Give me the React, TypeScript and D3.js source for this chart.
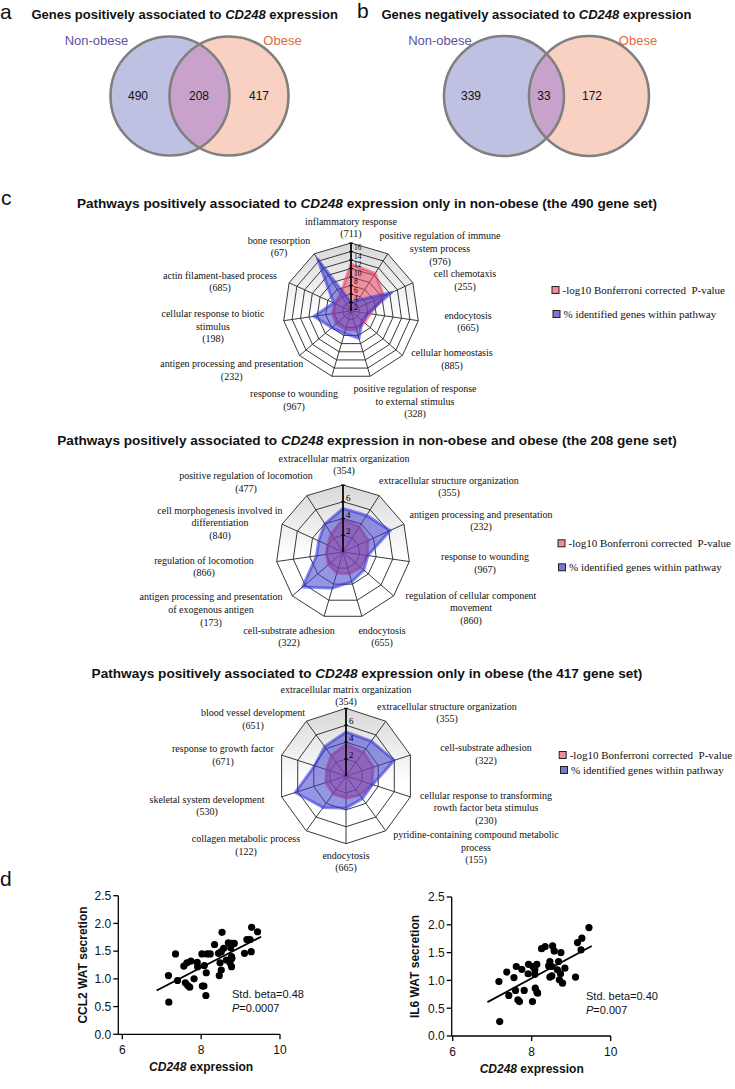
import React from "react";
import * as d3 from "d3";

const SANS = "'Liberation Sans', Arial, Helvetica, sans-serif";
const SERIF = "'Liberation Serif', 'Times New Roman', serif";

// ---------------- Venn data ----------------
const vennGroups = ["Non-obese", "Obese"];
const vennPositive = [490, 208, 417]; // non-obese only, both, obese only
const vennNegative = [339, 33, 172];

// ---------------- Radar data ----------------
const legendLabels = ["-log10 Bonferroni corrected  P-value", "% identified genes within pathway"];

const radar1Pathways = [
  ["inflammatory response"],
  ["positive regulation of immune", "system process"],
  ["cell chemotaxis"],
  ["endocytosis"],
  ["cellular homeostasis"],
  ["positive regulation of response", "to external stimulus"],
  ["response to wounding"],
  ["antigen processing and presentation"],
  ["cellular response to biotic", "stimulus"],
  ["actin filament-based process"],
  ["bone resorption"],
];
const radar1Sizes = [711, 976, 255, 665, 885, 328, 967, 232, 198, 685, 67];
const radar1LogP = [11, 10.5, 8.5, 4.6, 4.2, 4.6, 4.6, 4.6, 4.4, 4.2, 4.6];
const radar1Pct = [2, 3, 10.5, 4, 3.5, 6.7, 5.5, 6, 8.8, 4.5, 14.5];
const radar1Ticks = [2, 4, 6, 8, 10, 12, 14, 16];

const radar2Pathways = [
  ["extracellular matrix organization"],
  ["extracellular structure organization"],
  ["antigen processing and presentation"],
  ["response to wounding"],
  ["regulation of cellular component", "movement"],
  ["endocytosis"],
  ["cell-substrate adhesion"],
  ["antigen processing and presentation", "of exogenous antigen"],
  ["regulation of locomotion"],
  ["cell morphogenesis involved in", "differentiation"],
  ["positive regulation of locomotion"],
];
const radar2Sizes = [354, 355, 232, 967, 860, 655, 322, 173, 866, 840, 477];
const radar2LogP = [3.9, 3.6, 3.3, 2.9, 2.8, 2.7, 2.6, 2.3, 2.0, 2.0, 2.6];
const radar2Pct = [5.2, 5.2, 6.2, 3.0, 3.3, 3.7, 4.5, 6.4, 3.2, 3.2, 4.0];
const radar2Ticks = [2, 4, 6, 8];

const radar3Pathways = [
  ["extracellular matrix organization"],
  ["extracellular structure organization"],
  ["cell-substrate adhesion"],
  ["cellular response to transforming", "rowth factor beta stimulus"],
  ["pyridine-containing compound metabolic", "process"],
  ["endocytosis"],
  ["collagen metabolic process"],
  ["skeletal system development"],
  ["response to growth factor"],
  ["blood vessel development"],
];
const radar3Sizes = [354, 355, 322, 230, 155, 665, 122, 530, 671, 651];
const radar3LogP = [3.7, 3.5, 3.4, 3.2, 2.8, 2.6, 2.6, 2.5, 2.4, 3.0];
const radar3Pct = [5.2, 5.1, 6.0, 3.3, 3.3, 3.8, 4.6, 6.3, 3.9, 4.3];
const radar3Ticks = [2, 4, 6, 8];

// ---------------- Scatter data ----------------
const ccl2X = [7.17, 7.18, 7.35, 7.4, 7.56, 7.6, 7.64, 7.66, 7.71, 7.74, 7.82, 7.9, 7.91, 8.02, 8.03, 8.07, 8.08, 8.12, 8.15, 8.13, 8.23, 8.34, 8.44, 8.46, 8.48, 8.51, 8.51, 8.53, 8.57, 8.64, 8.69, 8.73, 8.75, 8.77, 8.78, 8.77, 8.78, 8.84, 9.1, 9.16, 9.24, 9.27, 9.28, 9.43];
const ccl2Y = [1.06, 0.58, 1.45, 0.97, 1.23, 0.93, 1.29, 0.88, 0.85, 1.32, 1.0, 1.3, 1.22, 1.45, 0.87, 0.87, 1.24, 0.7, 1.45, 1.11, 1.45, 1.62, 1.46, 1.06, 1.29, 1.49, 1.16, 1.84, 1.55, 1.34, 1.65, 1.29, 1.56, 1.4, 1.64, 1.22, 1.37, 1.64, 1.46, 1.71, 1.71, 1.49, 1.93, 1.85];
const ccl2FitX = [6.87, 9.52];
const ccl2FitY = [0.79, 1.76];

const il6X = [7.17, 7.19, 7.37, 7.42, 7.55, 7.59, 7.61, 7.65, 7.69, 7.75, 7.81, 7.91, 7.92, 8.02, 8.03, 8.08, 8.09, 8.13, 8.13, 8.15, 8.08, 8.25, 8.34, 8.43, 8.46, 8.46, 8.51, 8.51, 8.53, 8.57, 8.65, 8.68, 8.7, 8.73, 8.74, 8.78, 8.84, 9.11, 9.16, 9.27, 9.25, 9.45];
const il6Y = [0.98, 0.26, 1.15, 0.73, 1.05, 0.82, 1.25, 0.65, 0.62, 1.2, 0.82, 1.12, 1.29, 0.62, 1.25, 1.11, 0.86, 1.29, 0.79, 0.77, 1.19, 1.57, 1.61, 1.26, 1.06, 1.34, 1.25, 1.08, 1.62, 1.53, 1.19, 1.34, 1.01, 1.12, 1.5, 0.95, 1.22, 1.06, 1.68, 1.76, 1.55, 1.95];
const il6FitX = [6.88, 9.52];
const il6FitY = [0.61, 1.62];

const scatterYTicks = [0, 0.5, 1.0, 1.5, 2.0, 2.5];
const scatterXTicks = [6, 8, 10];

// ---------------- Layout (positions only) ----------------
const radar1LabelXY = [[351, 221], [440, 235.7], [465, 273.3], [468, 315], [452, 352.7], [415, 388.3], [294, 393.3], [231.7, 363.3], [213, 313.3], [220, 275], [279, 240]];
const radar2LabelXY = [[344, 458], [449, 480], [481, 514], [485, 556.7], [471, 595], [382, 630], [289, 630], [211, 596.7], [204, 560], [220, 510], [246, 475.7]];
const radar3LabelXY = [[346, 689], [447, 706], [486, 747.7], [486, 795], [476, 834.3], [346, 855], [246, 838.3], [207, 799], [223, 748.3], [253, 712.7]];

const LINE_H = 12.7;

type RadarProps = {
  gid: string; cx: number; cy: number; r: number; ticks: number[]; tickLabels: number[];
  tickDy: number; tickFont: number; names: string[][]; sizes: number[]; red: number[]; blue: number[];
  labelXY: number[][]; legendX: number[]; legendY: number[];
};

function Radar(p: RadarProps) {
  const n = p.names.length;
  const max = p.ticks[p.ticks.length - 1];
  const rs = d3.scaleLinear().domain([0, max]).range([0, p.r]);
  const ang = d3.scaleLinear().domain([0, n]).range([0, 2 * Math.PI]);
  const idx = d3.range(n);
  const ring = (v: number) =>
    d3.lineRadial<number>().angle((d) => ang(d)).radius(() => rs(v)).curve(d3.curveLinearClosed)(idx) || "";
  const series = (vals: number[]) =>
    d3.lineRadial<number>().angle((_, i) => ang(i)).radius((d) => rs(d)).curve(d3.curveLinearClosed)(vals) || "";
  const pt = (i: number, v: number) => {
    const a = ang(i);
    return [rs(v) * Math.sin(a), -rs(v) * Math.cos(a)];
  };
  const legendColors = ["#f08c9c", "#7b78c8"];
  return (
    <g>
      <defs>
        <linearGradient id={p.gid} x1="0" y1="0" x2="0" y2="1">
          <stop offset="0" stopColor="#d8d8d8" />
          <stop offset="0.55" stopColor="#ffffff" />
          <stop offset="1" stopColor="#ffffff" />
        </linearGradient>
      </defs>
      <g transform={`translate(${p.cx},${p.cy})`}>
        <path d={ring(max)} fill={`url(#${p.gid})`} stroke="none" />
        {idx.map((i) => {
          const [x, y] = pt(i, max);
          return <line key={"s" + i} x1={0} y1={0} x2={x} y2={y} stroke="#3a3a3a" strokeWidth={1} />;
        })}
        {p.ticks.map((t) => (
          <path key={"r" + t} d={ring(t)} fill="none" stroke="#3a3a3a" strokeWidth={1} />
        ))}
        <path d={series(p.red)} fill="rgba(232,70,100,0.55)" stroke="rgba(232,60,95,0.55)" strokeWidth={3} strokeLinejoin="round" />
        <path d={series(p.blue)} fill="rgba(62,62,205,0.55)" stroke="rgba(50,50,215,0.55)" strokeWidth={3} strokeLinejoin="round" />
        <line x1={0} y1={0} x2={0} y2={-p.r} stroke="#000" strokeWidth={1.6} />
        {p.ticks.map((t) => (
          <line key={"t" + t} x1={-2} x2={2} y1={-rs(t)} y2={-rs(t)} stroke="#000" strokeWidth={1} />
        ))}
        {p.tickLabels.map((t) => (
          <text key={"tl" + t} x={3} y={-rs(t) + p.tickDy} fontFamily={SERIF} fontSize={p.tickFont} fill="#000">
            {t}
          </text>
        ))}
      </g>
      {p.names.map((lines, i) => {
        const [lx, ly] = p.labelXY[i];
        const all = [...lines, `(${p.sizes[i]})`];
        return (
          <text key={"lab" + i} x={lx} y={ly + 3.5} textAnchor="middle" fontFamily={SERIF} fontSize={10} fill="#111">
            {all.map((s, k) => (
              <tspan key={k} x={lx} dy={k === 0 ? 0 : LINE_H}>
                {s}
              </tspan>
            ))}
          </text>
        );
      })}
      {legendLabels.map((s, k) => (
        <g key={"lg" + k}>
          <rect x={p.legendX[k] - 3.5} y={p.legendY[k] - 3.5} width={7} height={7} fill={legendColors[k]} stroke="#222" strokeWidth={1} />
          <text x={p.legendX[k] + 7} y={p.legendY[k] + 3.8} fontFamily={SERIF} fontSize={11} fill="#111" style={{ whiteSpace: "pre" }}>
            {s}
          </text>
        </g>
      ))}
    </g>
  );
}

type VennProps = { cxL: number; cxR: number; cy: number; r: number; counts: number[]; id: string;
  labelX: number[]; countX: number[]; };

function Venn(p: VennProps) {
  return (
    <g>
      <defs>
        <clipPath id={p.id}>
          <circle cx={p.cxL} cy={p.cy} r={p.r} />
        </clipPath>
      </defs>
      <circle cx={p.cxL} cy={p.cy} r={p.r} fill="#bfc1e2" />
      <circle cx={p.cxR} cy={p.cy} r={p.r} fill="#f8d1c3" />
      <circle cx={p.cxR} cy={p.cy} r={p.r} fill="#c9a2cb" clipPath={`url(#${p.id})`} />
      <circle cx={p.cxL} cy={p.cy} r={p.r} fill="none" stroke="#808080" strokeWidth={2.6} />
      <circle cx={p.cxR} cy={p.cy} r={p.r} fill="none" stroke="#808080" strokeWidth={2.6} />
      <text x={p.labelX[0]} y={45} textAnchor="middle" fontFamily={SANS} fontSize={13} fill="#5b50a3">
        {vennGroups[0]}
      </text>
      <text x={p.labelX[1]} y={45} textAnchor="middle" fontFamily={SANS} fontSize={13} fill="#e2683b">
        {vennGroups[1]}
      </text>
      {p.counts.map((c, i) => (
        <text key={i} x={p.countX[i]} y={p.cy + 3.5} textAnchor="middle" fontFamily={SANS} fontSize={12} fill="#111">
          {c}
        </text>
      ))}
    </g>
  );
}

type ScatterProps = { axisX: number; xRange: number[]; yRange: number[]; xs: number[]; ys: number[];
  fitX: number[]; fitY: number[]; yTitle: string; yTitleX: number; beta: string; pval: string; annX: number; };

function Scatter(p: ScatterProps) {
  const x = d3.scaleLinear().domain([6, 10]).range(p.xRange);
  const y = d3.scaleLinear().domain([0, 2.5]).range(p.yRange);
  const y0 = y(0);
  const fit = d3.line<number>().x((d) => x(d)).y((_, i) => y(p.fitY[i]))(p.fitX) || "";
  return (
    <g fontFamily={SANS}>
      <line x1={p.axisX} x2={p.axisX} y1={y(2.5)} y2={y0} stroke="#000" strokeWidth={1.3} />
      <line x1={p.axisX} x2={x(10)} y1={y0} y2={y0} stroke="#000" strokeWidth={1.3} />
      {scatterYTicks.map((t) => (
        <g key={"y" + t}>
          <line x1={p.axisX - 5} x2={p.axisX} y1={y(t)} y2={y(t)} stroke="#000" strokeWidth={1.3} />
          <text x={p.axisX - 7} y={y(t) + 4.3} textAnchor="end" fontSize={12} fill="#111">
            {d3.format(".1f")(t)}
          </text>
        </g>
      ))}
      {scatterXTicks.map((t) => (
        <g key={"x" + t}>
          <line x1={x(t)} x2={x(t)} y1={y0} y2={y0 + 5} stroke="#000" strokeWidth={1.3} />
          <text x={x(t)} y={y0 + 20} textAnchor="middle" fontSize={12} fill="#111">
            {t}
          </text>
        </g>
      ))}
      <text x={x(8)} y={y0 + 37} textAnchor="middle" fontSize={12} fontWeight="bold" fill="#111">
        <tspan fontStyle="italic">CD248</tspan> expression
      </text>
      <text transform={`translate(${p.yTitleX},${(y(2.5) + y0) / 2}) rotate(-90)`} textAnchor="middle" fontSize={12} fontWeight="bold" fill="#111">
        {p.yTitle}
      </text>
      <path d={fit} stroke="#000" strokeWidth={1.8} fill="none" />
      {p.xs.map((v, i) => (
        <circle key={i} cx={x(v)} cy={y(p.ys[i])} r={3.6} fill="#000" />
      ))}
      <text x={p.annX} y={y0 - 36} fontSize={11} fill="#111">
        Std. beta={p.beta}
      </text>
      <text x={p.annX} y={y0 - 22} fontSize={11} fill="#111">
        <tspan fontStyle="italic">P</tspan>={p.pval}
      </text>
    </g>
  );
}

export default function App() {
  return (
    <svg width={735} height={1089} style={{ position: "absolute", left: 0, top: 0, background: "#fff" }}>
      <rect width={735} height={1089} fill="#fff" />
      {/* panel letters */}
      <text x={0} y={19} fontFamily={SANS} fontSize={21} fill="#111">a</text>
      <text x={357} y={18} fontFamily={SANS} fontSize={21} fill="#111">b</text>
      <text x={1} y={205} fontFamily={SANS} fontSize={21} fill="#111">c</text>
      <text x={0} y={886} fontFamily={SANS} fontSize={21} fill="#111">d</text>

      {/* Venn titles */}
      <text x={31.5} y={18.5} fontFamily={SANS} fontSize={13} fontWeight="bold" fill="#111">
        Genes positively associated to <tspan fontStyle="italic">CD248</tspan> expression
      </text>
      <text x={381.5} y={18.5} fontFamily={SANS} fontSize={13} fontWeight="bold" fill="#111">
        Genes negatively associated to <tspan fontStyle="italic">CD248</tspan> expression
      </text>
      <Venn id="vA" cxL={170} cxR={229} cy={96} r={59.5} counts={vennPositive} labelX={[96.5, 282.5]} countX={[138, 199, 259]} />
      <Venn id="vB" cxL={504} cxR={589} cy={96} r={60} counts={vennNegative} labelX={[440, 638]} countX={[471, 544, 592]} />

      {/* Radar titles */}
      <text x={367} y={208} textAnchor="middle" fontFamily={SANS} fontSize={13.6} fontWeight="bold" fill="#111">
        Pathways positively associated to <tspan fontStyle="italic">CD248</tspan> expression only in non-obese (the 490 gene set)
      </text>
      <text x={367} y={445} textAnchor="middle" fontFamily={SANS} fontSize={13.6} fontWeight="bold" fill="#111">
        Pathways positively associated to <tspan fontStyle="italic">CD248</tspan> expression in non-obese and obese (the 208 gene set)
      </text>
      <text x={367} y={678} textAnchor="middle" fontFamily={SANS} fontSize={13.6} fontWeight="bold" fill="#111">
        Pathways positively associated to <tspan fontStyle="italic">CD248</tspan> expression only in obese (the 417 gene set)
      </text>

      <Radar gid="g1" cx={351} cy={311} r={68} ticks={radar1Ticks} tickLabels={radar1Ticks} tickDy={7} tickFont={7.5}
        names={radar1Pathways} sizes={radar1Sizes} red={radar1LogP} blue={radar1Pct} labelXY={radar1LabelXY}
        legendX={[555.5, 556.5]} legendY={[290, 314]} />
      <Radar gid="g2" cx={343} cy={552} r={67} ticks={radar2Ticks} tickLabels={[2, 4, 6]} tickDy={-1} tickFont={9}
        names={radar2Pathways} sizes={radar2Sizes} red={radar2LogP} blue={radar2Pct} labelXY={radar2LabelXY}
        legendX={[561.5, 562]} legendY={[543.3, 567.3]} />
      <Radar gid="g3" cx={346} cy={776} r={67.7} ticks={radar3Ticks} tickLabels={[2, 4, 6]} tickDy={-1} tickFont={9}
        names={radar3Pathways} sizes={radar3Sizes} red={radar3LogP} blue={radar3Pct} labelXY={radar3LabelXY}
        legendX={[562.7, 564]} legendY={[755, 770]} />

      <Scatter axisX={118.3} xRange={[122.3, 280]} yRange={[1034.3, 895.7]} xs={ccl2X} ys={ccl2Y}
        fitX={ccl2FitX} fitY={ccl2FitY} yTitle="CCL2 WAT secretion" yTitleX={87} beta="0.48" pval="0.0007" annX={232} />
      <Scatter axisX={451.7} xRange={[452.7, 610.7]} yRange={[1036, 897]} xs={il6X} ys={il6Y}
        fitX={il6FitX} fitY={il6FitY} yTitle="IL6 WAT secretion" yTitleX={419} beta="0.40" pval="0.007" annX={586} />
    </svg>
  );
}
